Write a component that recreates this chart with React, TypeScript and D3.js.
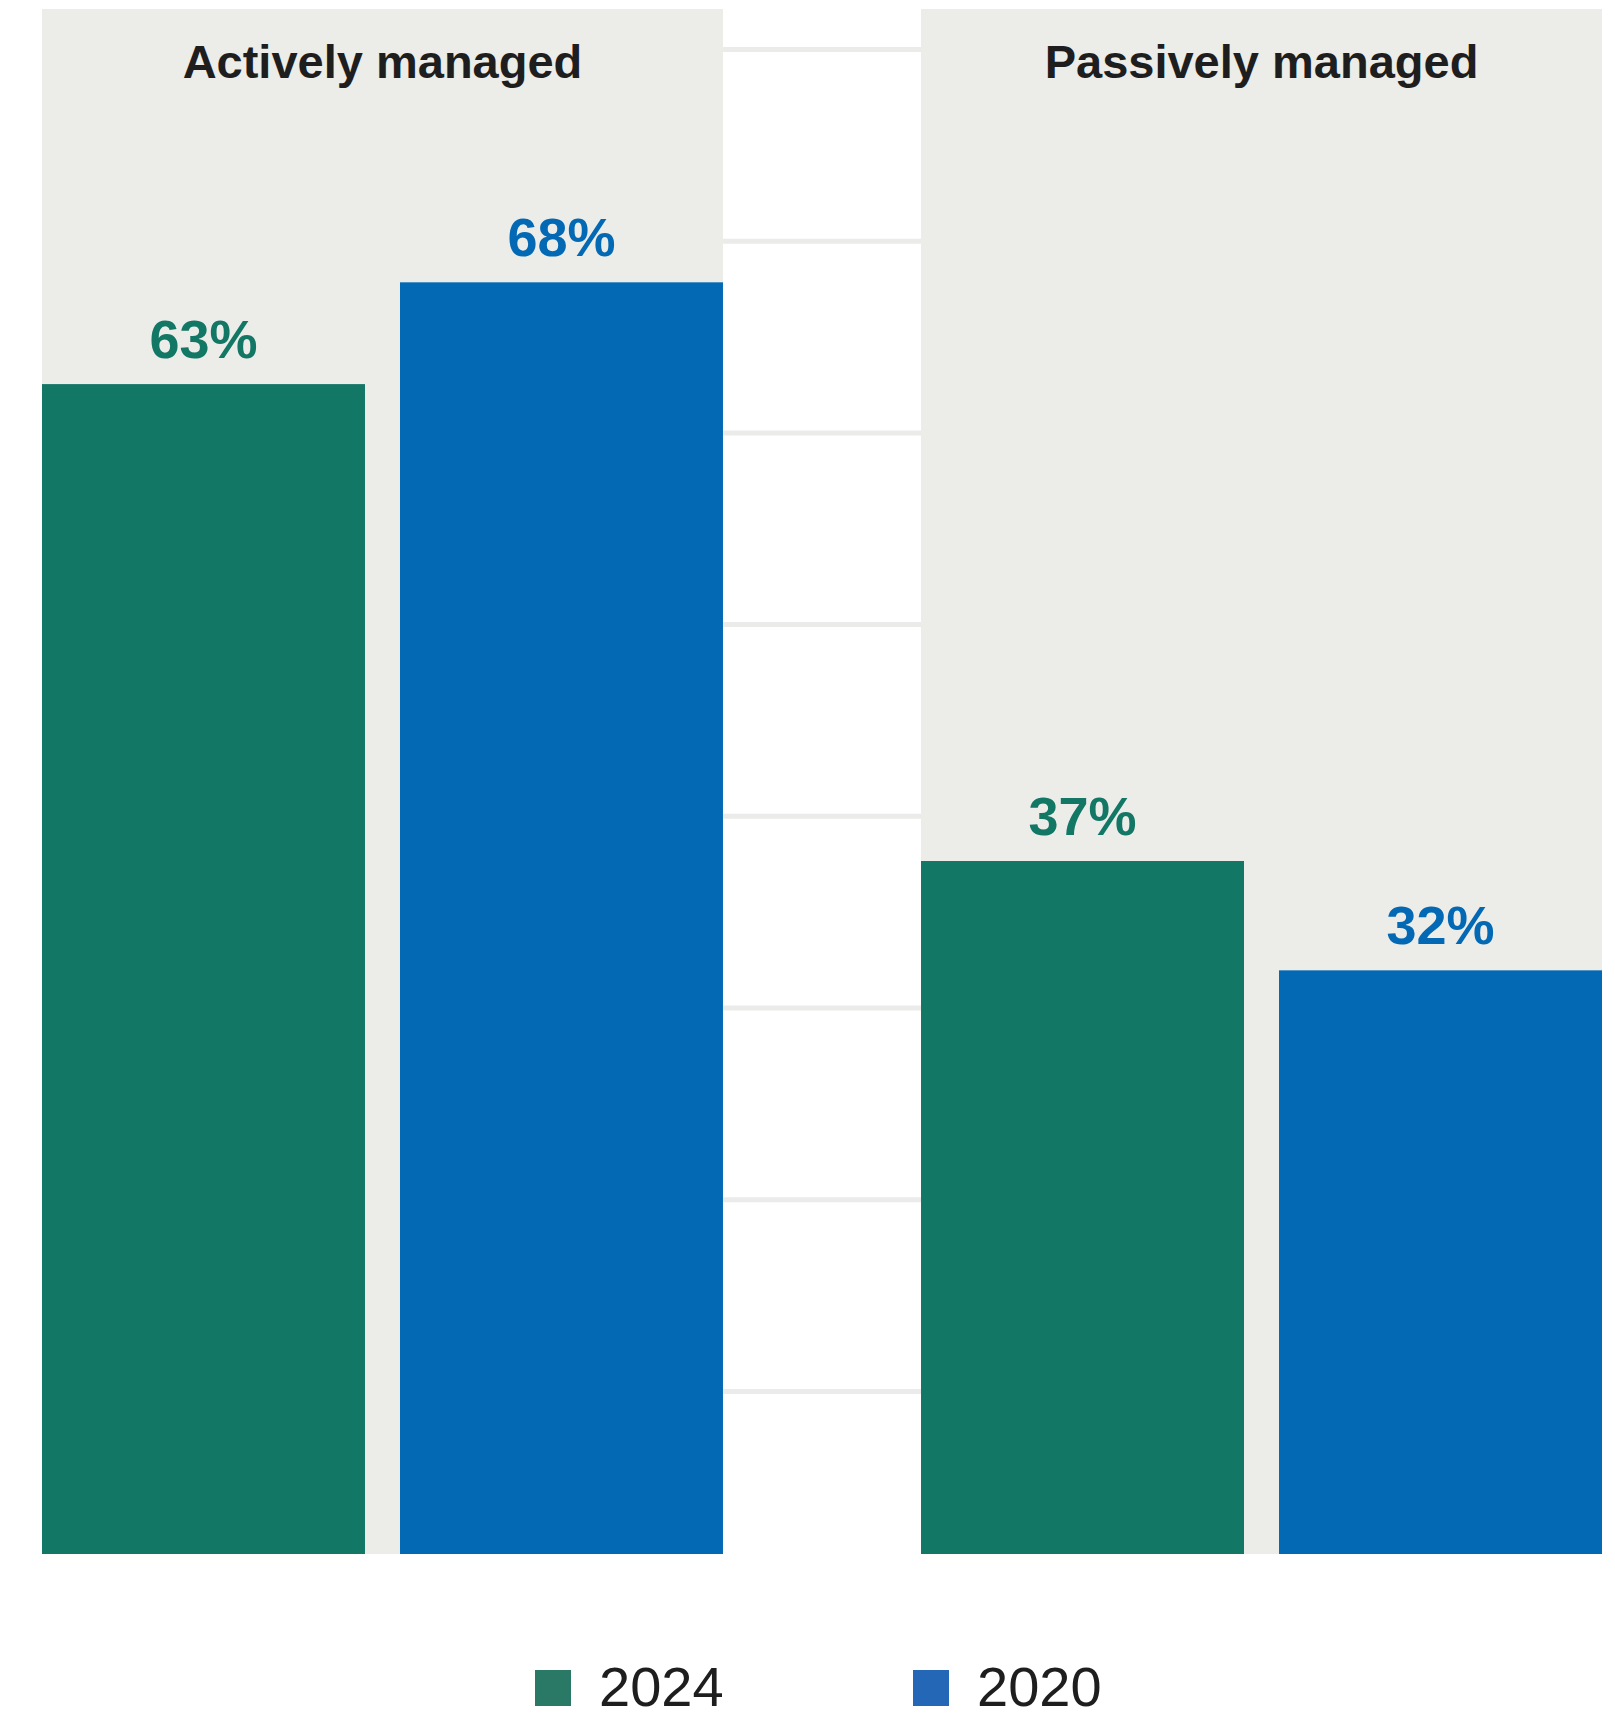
import React from "react";
import * as d3 from "d3";

// ---- data ----
const categories = ["Actively managed", "Passively managed"];
const seriesYears = ["2024", "2020"];
const values2024 = [62.7, 37.4];
const values2020 = [68.1, 31.6];
const gridTicks = [1, 2, 3, 4, 5, 6, 7, 8];

const seriesColors = ["#127765", "#0369b4"];
const legendColors = ["#2a7866", "#2467b7"];

const W = 1615;
const H = 1728;

export default function App() {
  const left = 42;
  const right = 1602;
  const panelTop = 9;
  const plotBottom = 1554;

  const x0 = d3.scaleBand<string>().domain(categories).range([left, right]).paddingInner(0.2253).paddingOuter(0);
  const x1 = d3.scaleBand<string>().domain(seriesYears).range([0, x0.bandwidth()]).paddingInner(0.0978).paddingOuter(0);
  const y = d3.scaleLinear().domain([0, 100]).range([1566, 1566 - 1885]);
  const gridY = d3.scaleLinear().domain([0, 8]).range([1583.1, 49.5]);
  const fmt = d3.format(".0f");

  const seriesValues = [values2024, values2020];

  const legendX = d3.scalePoint<string>().domain(seriesYears).range([535, 913]);

  return (
    <svg width={W} height={H} style={{ position: "absolute", left: 0, top: 0, display: "block" }} xmlns="http://www.w3.org/2000/svg">
      <rect x={0} y={0} width={W} height={H} fill="#ffffff" />
      {gridTicks.map((t) => (
        <line key={t} x1={left} x2={right} y1={gridY(t)} y2={gridY(t)} stroke="#ebebea" strokeWidth={5} />
      ))}
      {categories.map((c, ci) => {
        const bx = x0(c)!;
        return (
          <g key={c}>
            <rect x={bx} y={panelTop} width={x0.bandwidth()} height={plotBottom - panelTop} fill="#ecece9" />
            <text
              x={bx + x0.bandwidth() / 2}
              y={78}
              textAnchor="middle"
              fontFamily="'Liberation Sans', Arial, sans-serif"
              fontWeight={700}
              fontSize={47}
              fill="#1e1e1e"
            >
              {c}
            </text>
            {seriesYears.map((s, si) => {
              const v = seriesValues[si][ci];
              const xx = bx + x1(s)!;
              const top = y(v);
              return (
                <g key={s}>
                  <rect x={xx} y={top} width={x1.bandwidth()} height={plotBottom - top} fill={seriesColors[si]} />
                  <text
                    x={xx + x1.bandwidth() / 2}
                    y={top - 26}
                    textAnchor="middle"
                    fontFamily="'Liberation Sans', Arial, sans-serif"
                    fontWeight={700}
                    fontSize={54}
                    fill={seriesColors[si]}
                  >
                    {fmt(v)}%
                  </text>
                </g>
              );
            })}
          </g>
        );
      })}
      {seriesYears.map((s, si) => (
        <g key={s} transform={`translate(${legendX(s)},0)`}>
          <rect x={0} y={1670} width={36} height={36} fill={legendColors[si]} />
          <text
            x={64}
            y={1706}
            fontFamily="'Liberation Sans', Arial, sans-serif"
            fontWeight={400}
            fontSize={56}
            fill="#1e1e1e"
          >
            {s}
          </text>
        </g>
      ))}
    </svg>
  );
}
